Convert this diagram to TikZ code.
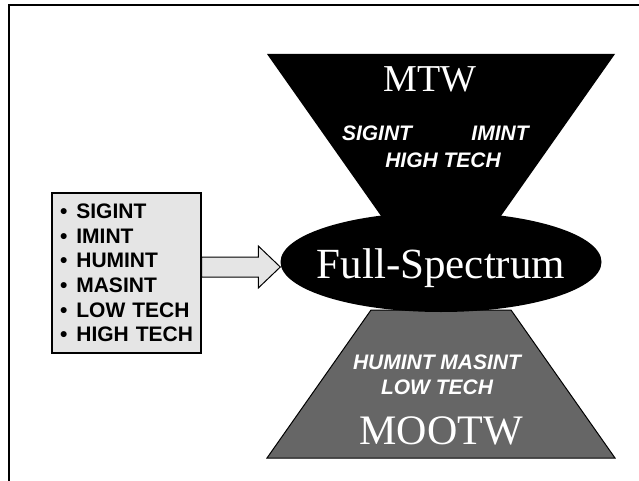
\documentclass[tikz,border=0pt]{standalone}
\usepackage{fontspec}
\setmainfont{Liberation Serif}
\setsansfont{Liberation Sans}
\usetikzlibrary{shapes.geometric}
\usetikzlibrary{positioning}
\usetikzlibrary{calc}
\tikzset{x=1pt, y=-1pt, % Slide grid, y runs downwards
      node distance=10pt,
      every node/.style={inner sep=0pt},
      frame/.style={line width=1.6pt},
      listbox/.style={ % Grey box with the bullet list
      draw, line width=1.2pt, fill=black!10,
      minimum width=149pt, minimum height=160pt,
      inner xsep=4pt, text width=141pt, align=left,
      font=\sffamily\bfseries\fontsize{21}{24.6}\selectfont},
      blockarrow/.style={draw, line width=1pt, fill=black!10, line join=miter},
      core/.style={ellipse, fill=black, minimum width=321pt, minimum height=100pt},
      coretext/.style={text=white, text depth=0pt, font=\fontsize{43}{43}\selectfont},
      mtwfill/.style={fill=black},
      mootwfill/.style={fill=black!60, draw=black, line width=1pt},
      title/.style={text=white, text depth=0pt, font=\fontsize{#1}{#1}\selectfont},
      tag/.style={text=white, text depth=0pt, font=\sffamily\bfseries\itshape\fontsize{21}{21}\selectfont}}

\begin{document}
\begin{tikzpicture}
      \useasboundingbox (0,0) rectangle (639,481);
      \draw[frame] (639,5) -- (9,5) -- (9,481);
      % the two funnels
      \fill[mtwfill] (267,54) -- (615,54) -- (470,260) -- (412,260) -- cycle;
      \filldraw[mootwfill] (371,310) -- (511,310) -- (615,458) -- (267,458) -- cycle;
      \node[core] (spec) at (441,262) {};
      \node[coretext] (spectext) at (441,264) {Full-Spectrum};
      \node[title=38] (mtw) at (430,79) {MTW};
      \node[tag] (sigtop) at (377,133) {SIGINT};
      \node[tag] (imtop) at (500,133) {IMINT};
      \node[tag] (hightop) at (443,160) {HIGH TECH};
      \node[tag] (humbot) at (437,362) {HUMINT MASINT};
      \node[tag, below=of humbot] (lowbot) {LOW TECH};
      \node[title=42] (mootw) at (441,431) {MOOTW};
      % source list and arrow
      \node[listbox] (list) at (126.5,273) {%
            \hspace*{4pt}•\hspace{9pt}SIGINT\\
            \hspace*{4pt}•\hspace{9pt}IMINT\\
            \hspace*{4pt}•\hspace{9pt}HUMINT\\
            \hspace*{4pt}•\hspace{9pt}MASINT\\
            \hspace*{4pt}•\hspace{9pt}LOW TECH\\
            \hspace*{4pt}•\hspace{9pt}HIGH TECH};
      \coordinate (tail) at ($(list.east)+(0,-6)$);
      \coordinate (tip) at (tail -| spec.west);
      \draw[blockarrow] ($(tail)+(0,-10)$) -- ($(tip)+(-22,-10)$) -- ($(tip)+(-22,-21)$)
            -- (tip) -- ($(tip)+(-22,21)$) -- ($(tip)+(-22,10)$) -- ($(tail)+(0,10)$) -- cycle;
\end{tikzpicture}
\end{document}
